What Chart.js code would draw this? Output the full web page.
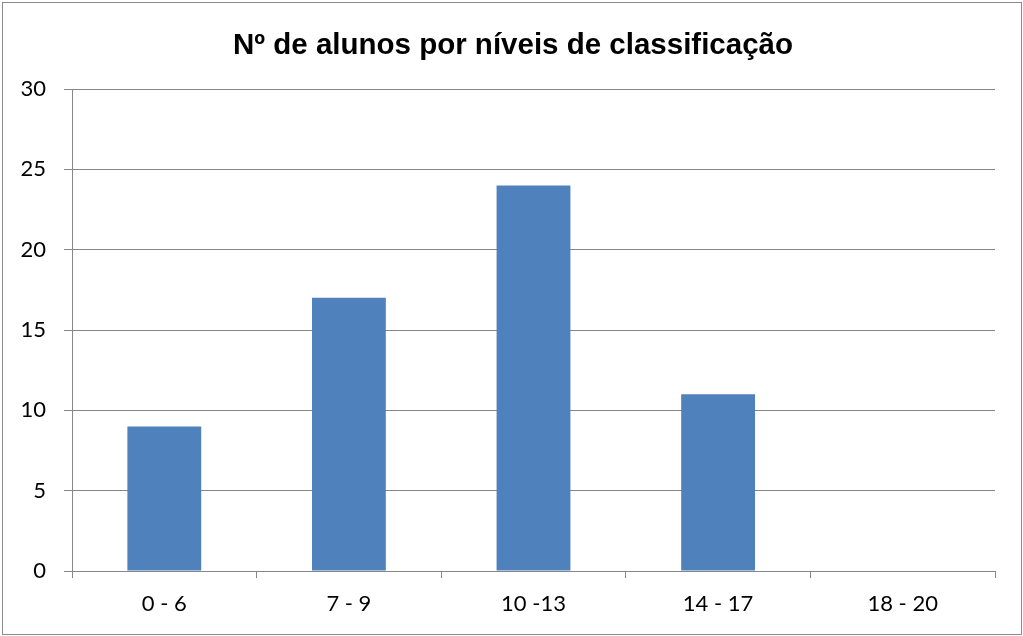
<!DOCTYPE html>
<html>
<head>
<meta charset="utf-8">
<script src="https://cdn.jsdelivr.net/npm/chart.js@4.4.0/dist/chart.umd.min.js"></script>
<style>
  html, body { margin: 0; padding: 0; background: #ffffff; }
  .wrap { position: relative; width: 1023px; height: 636px; }
  .frame {
    position: absolute; left: 2px; top: 2px; width: 1018px; height: 631px;
    border: 1px solid #8c8c8c; pointer-events: none;
  }
  .title {
    position: absolute; left: 0; top: 26px; width: 1026px; height: 36px;
    line-height: 36px; text-align: center;
    font-family: "Liberation Sans", Arial, sans-serif;
    font-size: 29.5px; font-weight: bold; color: #000000;
  }
  canvas { position: absolute; left: 0; top: 0; }
</style>
</head>
<body>
<div class="wrap">
  <canvas id="gradesChart" width="1023" height="636"></canvas>
  <div class="title">Nº de alunos por níveis de classificação</div>
  <div class="frame"></div>
</div>
<script>
// Nº de alunos por níveis de classificação
const categories = ["0 - 6", "7 - 9", "10 -13", "14 - 17", "18 - 20"];
const studentCounts = [9, 17, 24, 11, 0];
const yTicks = [0, 5, 10, 15, 20, 25, 30];

const axisColor = "#868686";
const labelFont = { family: "Lato, 'Open Sans', sans-serif", size: 22 };

const ctx = document.getElementById("gradesChart");

new Chart(ctx.getContext("2d"), {
  type: "bar",
  data: {
    labels: categories,
    datasets: [
      {
        label: "Nº de alunos",
        data: studentCounts,
        backgroundColor: "#4f81bd",
        borderWidth: 0,
        barPercentage: 0.4,
        categoryPercentage: 1.0,
      },
    ],
  },
  options: {
    responsive: false,
    animation: false,
    layout: {
      // top space is taken by the html title above the canvas
      padding: { left: 0, right: 28, top: 89, bottom: 0 },
    },
    plugins: {
      legend: { display: false },
      tooltip: { enabled: false },
      title: { display: false },
    },
    scales: {
      x: {
        offset: true,
        grid: {
          offset: true,
          drawOnChartArea: false,
          drawTicks: true,
          tickLength: 7,
          color: axisColor,
        },
        border: { color: axisColor, width: 1 },
        ticks: {
          color: "#000000",
          font: labelFont,
          padding: 13,
          maxRotation: 0,
        },
        afterFit: function (scale) {
          scale.height = 65;
        },
      },
      y: {
        min: 0,
        max: 30,
        afterBuildTicks: function (scale) {
          scale.ticks = yTicks.map((v) => ({ value: v }));
        },
        grid: {
          color: axisColor,
          drawTicks: true,
          tickLength: 8,
        },
        border: { color: axisColor, width: 1 },
        ticks: {
          color: "#000000",
          font: labelFont,
          padding: 18,
        },
        afterFit: function (scale) {
          scale.width = 72;
        },
      },
    },
  },
});
</script>
</body>
</html>
